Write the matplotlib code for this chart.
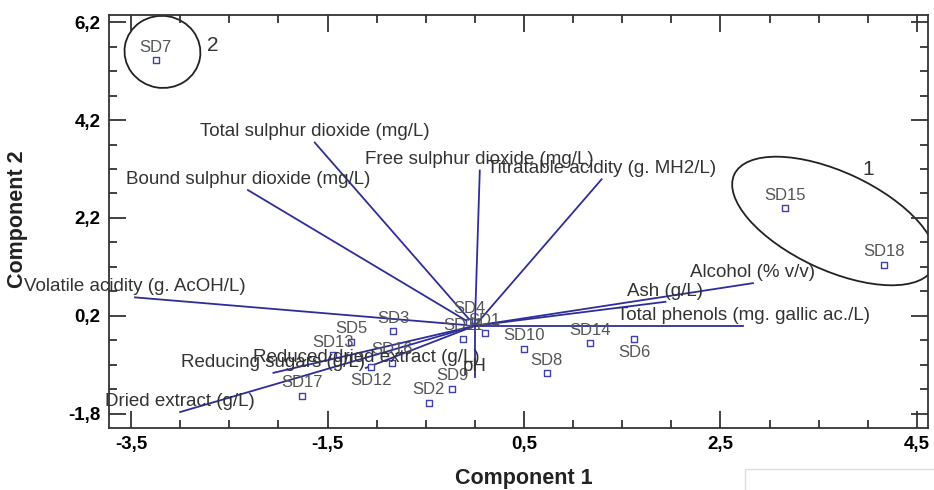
import numpy as np
import matplotlib
matplotlib.use('Agg')
import matplotlib.pyplot as plt
from matplotlib.patches import Ellipse, Rectangle
from matplotlib.transforms import ScaledTranslation
from matplotlib.ticker import MultipleLocator, FuncFormatter

plt.rcParams['font.family'] = ['Liberation Sans', 'DejaVu Sans']

# observaciones (scores)
obs_names = ['SD1', 'SD2', 'SD3', 'SD4', 'SD5', 'SD6', 'SD7', 'SD8', 'SD9',
             'SD10', 'SD11', 'SD12', 'SD13', 'SD14', 'SD15', 'SD16', 'SD17', 'SD18']
obs_x = [0.10, -0.47, -0.83, -0.06, -1.26, 1.62, -3.25, 0.73, -0.23,
         0.50, -0.12, -1.06, -1.44, 1.17, 3.16, -0.84, -1.76, 4.16]
obs_y = [-0.15, -1.57, -0.11, 0.08, -0.33, -0.26, 5.42, -0.97, -1.29,
         -0.47, -0.26, -0.84, -0.60, -0.36, 2.40, -0.76, -1.43, 1.24]
below = ['SD6', 'SD12']

# variables (loadings)
var_names = ['Total sulphur dioxide (mg/L)', 'Bound sulphur dioxide (mg/L)',
             'Free sulphur dioxide (mg/L)', 'Titratable acidity (g. MH2/L)',
             'Alcohol (% v/v)', 'Ash (g/L)', 'Total phenols (mg. gallic ac./L)',
             'Volatile acidity (g. AcOH/L)', 'Reducing sugars (g/L)',
             'Reduced dried extract (g/L)', 'Dried extract (g/L)', 'pH']
var_x = [-1.63, -2.31, 0.05, 1.29, 2.83, 1.94, 2.73, -3.46, -2.05, -1.11, -3.00, 0.00]
var_y = [3.74, 2.77, 3.17, 2.99, 0.87, 0.49, 0.00, 0.58, -0.96, -0.86, -1.76, -1.05]

# grupos
groups = ['1', '2']
group_cx = [3.655, -3.18]
group_cy = [2.139, 5.59]
group_lx = [4.00, -2.67]
group_ly = [3.18, 5.73]

fig = plt.figure(figsize=(9.34, 4.9), dpi=100)
ax = fig.add_axes([109/934, 1-428/490, (928-109)/934, (428-15)/490])

line_c = '#2e2e9a'
txt_c = '#333333'

for n, x, y in zip(var_names, var_x, var_y):
    ax.plot([0, x], [0, y], color=line_c, lw=1.3, zorder=2)
    ax.annotate(n, (x, y), xytext=(0, 1.5), textcoords='offset points',
                ha='center', va='bottom', fontsize=13.5, color=txt_c,
                annotation_clip=False, zorder=4)

ax.scatter(obs_x, obs_y, marker='s', s=14, facecolors='white',
           edgecolors='#4040a8', linewidths=1.0, zorder=3)
for n, x, y in zip(obs_names, obs_x, obs_y):
    if n in below:
        ax.annotate(n, (x, y), xytext=(0, -4.5), textcoords='offset points',
                    ha='center', va='top', fontsize=12, color='#555555')
    else:
        ax.annotate(n, (x, y), xytext=(0, 4), textcoords='offset points',
                    ha='center', va='bottom', fontsize=12, color='#555555')

# elipses
ell_w = [2.2, 0.76]
ell_h = [0.98, 0.72]
ell_a = [-25, -10]
for g, cx, cy, w, h, a, lx, ly in zip(groups, group_cx, group_cy, ell_w, ell_h,
                                       ell_a, group_lx, group_ly):
    tr = fig.dpi_scale_trans + ScaledTranslation(cx, cy, ax.transData)
    ax.add_patch(Ellipse((0, 0), w, h, angle=a, fill=False, ec='#222222',
                         lw=1.3, transform=tr))
    ax.text(lx, ly, g, fontsize=15, color=txt_c, ha='center', va='center')

ax.set_xlim(-3.724, 4.612)
ax.set_ylim(-2.086, 6.343)
ax.xaxis.set_major_locator(MultipleLocator(2.0, offset=0.5))
ax.xaxis.set_minor_locator(MultipleLocator(0.5))
ax.yaxis.set_major_locator(MultipleLocator(2.0, offset=0.2))
ax.yaxis.set_minor_locator(MultipleLocator(0.5, offset=0.2))
fmt = FuncFormatter(lambda v, p: f'{v:.1f}'.replace('.', ','))
ax.xaxis.set_major_formatter(fmt)
ax.yaxis.set_major_formatter(fmt)
ax.tick_params(which='both', direction='in', top=True, right=True,
               color='#333333', width=1.3)
ax.tick_params(which='major', length=12, labelsize=13.5, pad=6)
ax.tick_params(which='minor', length=6)
for lab in ax.get_xticklabels() + ax.get_yticklabels():
    lab.set_fontweight('bold')
for s in ax.spines.values():
    s.set_linewidth(1.3)
    s.set_color('#333333')

fig.text(524/934, 1-478/490, 'Component 1', ha='center', va='center',
         fontsize=15.5, fontweight='bold', color='#222222')
fig.text(18/934, 1-219/490, 'Component 2', ha='center', va='center',
         rotation=90, fontsize=15.5, fontweight='bold', color='#222222')

fig.patches.append(Rectangle((745/934, -0.01), 0.3, 26/490, transform=fig.transFigure,
                             fill=False, ec='#dddddd', lw=1))

fig.savefig('out.png', dpi=100)
